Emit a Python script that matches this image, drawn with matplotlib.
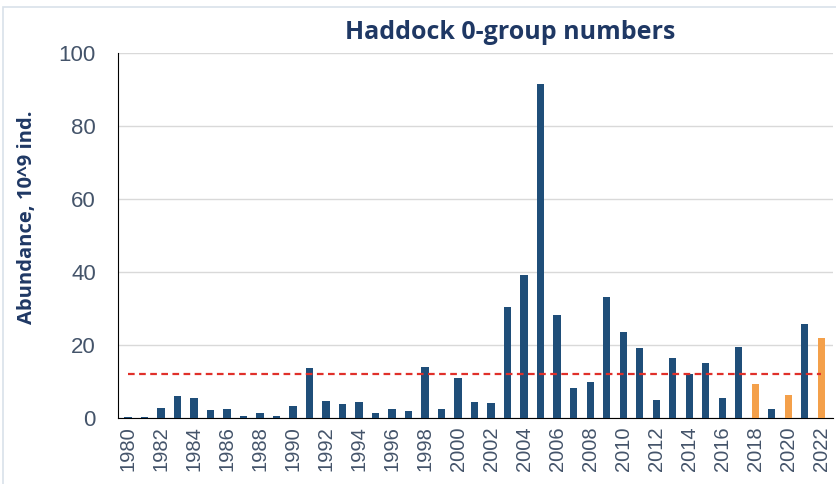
import numpy as np
import matplotlib.pyplot as plt
from matplotlib.patches import Rectangle

# Haddock 0-group abundance (10^9 individuals)
years = list(range(1980, 2023))
abundance = [0.4, 0.4, 2.9, 6.1, 5.4, 2.3, 2.6, 0.6, 1.5, 0.6,
             3.2, 13.8, 4.8, 3.8, 4.5, 1.3, 2.6, 1.9, 14.1, 2.6,
             10.9, 4.5, 4.2, 30.6, 39.2, 91.6, 28.4, 8.3, 9.9, 33.2,
             23.7, 19.2, 5.1, 16.6, 12.0, 15.0, 5.4, 19.5, 9.3, 2.6,
             6.4, 25.8, 22.1]
highlight_years = [2018, 2020, 2022]
mean_level = 12.1

navy = "#1F4E79"
orange = "#F4A04A"
text_blue = "#1F3864"

colors = [orange if y in highlight_years else navy for y in years]
x = np.arange(len(years))

fig = plt.figure(figsize=(8.37, 4.84), dpi=100)
ax = fig.add_axes([0.141, 0.136, 0.854, 0.754])

ax.bar(x, abundance, width=0.44, color=colors, zorder=3)
ax.plot([x[0], x[-1]], [mean_level, mean_level], color="#E0302A",
        linestyle=(0, (3, 2)), linewidth=1.6, zorder=4)

ax.set_xlim(-0.6, len(years) - 0.3)
ax.set_ylim(0, 100)
ax.set_yticks([0, 20, 40, 60, 80, 100])
ax.yaxis.grid(True, color="#D9D9D9", linewidth=1, zorder=0)
ax.set_xticks(x[::2])
ax.set_xticklabels([str(y) for y in years[::2]], rotation=90,
                   fontsize=14.5, color="#44546A", family="Liberation Sans")
for lab in ax.get_yticklabels():
    lab.set_fontsize(16)
    lab.set_color("#44546A")
    lab.set_family("Liberation Sans")
ax.tick_params(axis="y", length=0, pad=16)
ax.tick_params(axis="x", length=0, pad=6)

for side in ["top", "right"]:
    ax.spines[side].set_visible(False)
ax.spines["left"].set_color("black")
ax.spines["bottom"].set_color("black")

fig.text(27 / 837, 1 - 217 / 484, "Abundance, 10^9 ind.", fontsize=14.5,
         fontweight="bold", color=text_blue, family="Open Sans",
         rotation=90, ha="center", va="center")

fig.text(0.61, 0.932, "Haddock 0-group numbers", fontsize=18,
         fontweight="bold", color=text_blue, family="Open Sans",
         ha="center", va="center")

fig.patches.append(Rectangle((0.004, -0.1), 1.2, 1.0 - 7 / 484 + 0.1,
                             transform=fig.transFigure, fill=False,
                             edgecolor="#D9E1EA", linewidth=1.2))

fig.savefig("out.png", dpi=100)
